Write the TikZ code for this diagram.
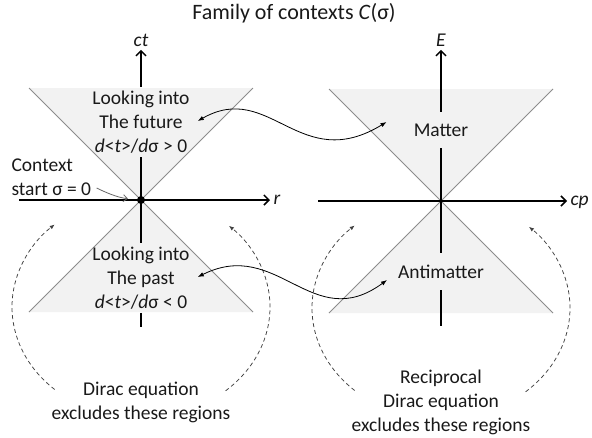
\documentclass[tikz,border=0pt]{standalone}
\usepackage{fontspec}
\setmainfont{Carlito}
\usetikzlibrary{arrows.meta, positioning}

\begin{document}
\begin{tikzpicture}[
    x=1pt, y=-1pt,
    font=\fontsize{19.5}{24}\selectfont,
    every node/.style={text=black!90},
    cone/.style={fill=black!5},
    edgeline/.style={draw=black!45, line width=0.75pt},
    axis/.style={-{Straight Barb[length=5pt,width=10pt]}, line width=1.5pt},
    stub/.style={line width=1.5pt},
    axlabel/.style={font=\fontsize{19.5}{24}\selectfont\itshape},
    txt/.style={align=center, inner xsep=2pt, inner ysep=3.5pt},
    phase/.style={inner xsep=2pt, inner ysep=11.5pt},
    link/.style={{Latex[length=6pt,width=4.5pt]}-{Latex[length=6pt,width=4.5pt]}, line width=0.8pt},
    pointer/.style={-{Straight Barb[length=4pt,width=7pt]}, draw=black!60, line width=0.8pt},
    excl/.style={-{Latex[length=5pt,width=4pt]}, draw=black!75, dash pattern=on 4pt off 3pt, line width=0.75pt}
]
    \useasboundingbox (0,0) rectangle (592,437);

    % cone origins
    \coordinate (L) at (141,200);
    \coordinate (R) at (441,201);

    % light cones
    \foreach \o in {L,R} {
        \fill[cone] (\o) -- ++(-112,-112) -- ++(224,0) -- cycle;
        \fill[cone] (\o) -- ++(-112,112) -- ++(224,0) -- cycle;
        \draw[edgeline] (\o) ++(-112,-112) -- ++(224,224);
        \draw[edgeline] (\o) ++(112,-112) -- ++(-224,224);
    }

    \node[font=\fontsize{22}{26}\selectfont] (title) at (294,13) {Family of contexts \textit{C}(σ)};

    % space-time side
    \node[axlabel] (ct) at (141,40) {ct};
    \node[axlabel, anchor=base west] (r) at (270,204) {r};
    \node[txt] (future) at (141,122) {Looking into\\The future\\\textit{d}<\textit{t}>/\textit{d}σ > 0};
    \node[txt] (past) at (141,278) {Looking into\\The past\\\textit{d}<\textit{t}>/\textit{d}σ < 0};
    \node[align=left, anchor=west] (ctx) at (8,177) {Context\\start σ = 0};
    \node[align=center] (dirac) at (141,402) {Dirac equation\\excludes these regions};

    \coordinate (lstart) at (19,200);
    \draw[axis] (lstart) -- (r.west |- L);
    \draw[axis] (future.north) -- (future.north |- ct.south);
    \draw[stub] (L) -- (future.south);
    \draw[stub] (L) -- (past.north);
    \draw[stub] (past.south) -- ++(0,14);
    \node[circle, fill=black, inner sep=0pt, minimum size=8pt] (dot) at (L) {};

    % energy-momentum side
    \node[axlabel] (E) at (441,40) {E};
    \node[axlabel, anchor=base west] (cp) at (567,205) {cp};
    \node[txt, phase] (matter) at (441,130) {Matter};
    \node[txt, phase] (anti) at (441,271.5) {Antimatter};
    \node[align=center] (rdirac) at (441,402) {Reciprocal\\Dirac equation\\excludes these regions};

    \coordinate (rstart) at (318,201);
    \draw[axis] (rstart) -- (cp.west |- R);
    \draw[axis] (matter.north) -- (matter.north |- E.south);
    \draw[stub] (R) -- (matter.south);
    \draw[stub] (R) -- (anti.north);
    \draw[stub] (anti.south) -- ++(0,36);

    % excluded regions
    \foreach \o in {L,R} {
        \draw[excl] ([yshift=-107pt]\o) ++(132:129 and 111) arc[start angle=132, end angle=228, x radius=129, y radius=111];
        \draw[excl] ([yshift=-107pt]\o) ++(49:129 and 111) arc[start angle=49, end angle=-47, x radius=129, y radius=111];
    }

    % correspondences
    \draw[link] ([xshift=6pt,yshift=1pt]future.east) .. controls +(72,-41) and +(-87,53) .. ([xshift=-25pt,yshift=8pt]matter.west);
    \draw[link] ([xshift=6pt,yshift=1pt]past.east) .. controls +(80,-40) and +(-75,55) .. ([xshift=-9pt,yshift=-8.5pt]anti.west);
    \draw[pointer, shorten >=9pt] ([xshift=2pt,yshift=-11pt]ctx.east) to[bend right=10] (dot);
\end{tikzpicture}
\end{document}
